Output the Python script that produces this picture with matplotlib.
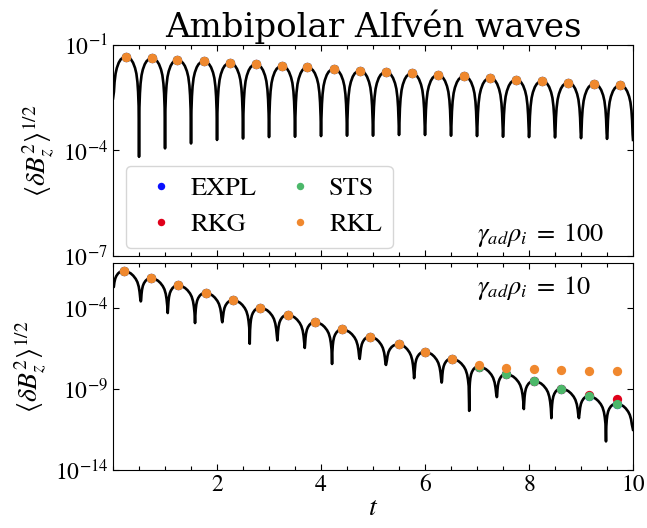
import numpy as np
import matplotlib
matplotlib.use("Agg")
import matplotlib.pyplot as plt
from matplotlib.ticker import FixedLocator, MultipleLocator, NullLocator

plt.rcParams['font.family'] = ['STIXGeneral', 'DejaVu Serif']
plt.rcParams['mathtext.fontset'] = 'stix'

# ---------------- data (log10 values) ----------------
methods = ["EXPL", "RKG", "STS", "RKL"]
colors = ["#0a10ff", "#e0001a", "#4cb86a", "#f0882e"]

# top panel (gamma_ad rho_i = 100)
top_peak_t = [0.244, 0.744, 1.237, 1.744, 2.244, 2.744, 3.244, 3.737, 4.244, 4.744,
              5.244, 5.744, 6.244, 6.75, 7.25, 7.75, 8.25, 8.75, 9.25, 9.75]
top_peak_log = [-1.333, -1.378, -1.427, -1.463, -1.512, -1.549, -1.597, -1.634, -1.682, -1.731,
                -1.768, -1.805, -1.853, -1.890, -1.938, -1.987, -2.024, -2.072, -2.109, -2.146]
top_cusp_t = [0.5, 1.0, 1.5, 2.0, 2.5, 3.0, 3.5, 4.0, 4.5, 5.0,
              5.5, 6.0, 6.5, 7.0, 7.5, 8.0, 8.5, 9.0, 9.5]
top_cusp_log = [-4.18, -3.94, -3.80, -3.70, -3.66, -3.62, -3.61, -3.59, -3.58, -3.58,
                -3.56, -3.56, -3.58, -3.59, -3.61, -3.62, -3.63, -3.65, -3.67]
top_start = (0.0, -2.52)
top_end = (10.0, -3.70)
top_dots_log = {
    "EXPL": top_peak_log,
    "RKG": top_peak_log,
    "STS": top_peak_log,
    "RKL": top_peak_log,
}

# bottom panel (gamma_ad rho_i = 10)
bot_peak_t = [0.212, 0.737, 1.256, 1.783, 2.313, 2.833, 3.360, 3.890, 4.410, 4.942,
              5.49, 6.00, 6.51, 7.03, 7.56, 8.10, 8.62, 9.15, 9.69]
bot_line_peak_log = [-1.68, -2.13, -2.58, -3.04, -3.49, -3.96, -4.40, -4.85, -5.30, -5.75,
                     -6.22, -6.68, -7.11, -7.60, -8.06, -8.49, -8.96, -9.43, -9.89]
bot_cusp_t = [0.533, 1.052, 1.577, 2.102, 2.629, 3.160, 3.687, 4.212, 4.744, 5.25,
              5.79, 6.32, 6.85, 7.38, 7.90, 8.43, 8.96, 9.48]
bot_cusp_log = [-3.57, -4.29, -4.91, -4.86, -6.19, -5.98, -6.45, -7.44, -7.13, -7.50,
                -8.32, -8.59, -10.34, -9.49, -10.23, -10.79, -10.79, -12.23]
bot_start = (0.0, -2.70)
bot_end = (10.0, -11.51)
bot_dots_log = {
    "EXPL": [-1.68, -2.13, -2.58, -3.04, -3.49, -3.96, -4.40, -4.85, -5.30, -5.75,
             -6.22, -6.68, -7.11, -7.60, -8.06, -8.49, -8.96, -9.43, -9.89],
    "RKG": [-1.68, -2.13, -2.58, -3.04, -3.49, -3.96, -4.40, -4.85, -5.30, -5.75,
            -6.22, -6.68, -7.11, -7.60, -8.06, -8.49, -8.96, -9.33, -9.60],
    "STS": [-1.68, -2.13, -2.58, -3.04, -3.49, -3.96, -4.40, -4.85, -5.30, -5.75,
            -6.22, -6.68, -7.11, -7.60, -8.06, -8.49, -8.96, -9.43, -9.89],
    "RKL": [-1.68, -2.13, -2.58, -3.04, -3.49, -3.96, -4.40, -4.85, -5.30, -5.75,
            -6.22, -6.68, -7.11, -7.48, -7.69, -7.77, -7.81, -7.87, -7.85],
}

# shape of one arch: fraction of the way from cusp to peak,
# and drop below the arch maximum (decades)
rise_frac = [0.03, 0.07, 0.12, 0.20, 0.30, 0.45, 0.60, 0.80]
rise_drop = [1.40, 1.00, 0.72, 0.48, 0.32, 0.17, 0.08, 0.02]
top_fall_drop = [1.40, 1.00, 0.72, 0.48, 0.32, 0.17, 0.08, 0.02]
bot_fall_drop = [1.70, 1.30, 0.98, 0.70, 0.50, 0.30, 0.16, 0.05]


def stitch(start, end, peak_t, peak_v, cusp_t, cusp_v, fall_drop):
    ts = [start[0]]
    vs = [start[1]]
    n = len(peak_t)
    for i in range(n):
        lt, lv = (start if i == 0 else (cusp_t[i - 1], cusp_v[i - 1]))
        pt, pv = peak_t[i], peak_v[i]
        bd = pv - lv
        for f, d in zip(rise_frac, rise_drop):
            if d < bd:
                ts.append(lt + f * (pt - lt))
                vs.append(pv - d)
        ts.append(pt)
        vs.append(pv)
        rt, rv = ((cusp_t[i], cusp_v[i]) if i < n - 1 else end)
        bd = pv - rv
        for f, d in reversed(list(zip(rise_frac, fall_drop))):
            if d < bd:
                ts.append(rt - f * (rt - pt))
                vs.append(pv - d)
        ts.append(rt)
        vs.append(rv)
    return np.array(ts), 10.0 ** np.array(vs)


fig = plt.figure(figsize=(6.47, 5.28), dpi=100)
ax1 = fig.add_axes([0.1747, 0.5152, 0.8037, 0.3996])
ax2 = fig.add_axes([0.1747, 0.1098, 0.8037, 0.3920])

# top
t1, y1 = stitch(top_start, top_end, top_peak_t, top_peak_log, top_cusp_t, top_cusp_log, top_fall_drop)
ax1.plot(t1, y1, color='black', lw=1.9, zorder=2)
for m, c in zip(methods, colors):
    ax1.plot(top_peak_t, 10.0 ** np.array(top_dots_log[m]), 'o', color=c, ms=6.7,
             mew=0, label=m, zorder=3)

# bottom
t2, y2 = stitch(bot_start, bot_end, bot_peak_t, bot_line_peak_log, bot_cusp_t, bot_cusp_log, bot_fall_drop)
ax2.plot(t2, y2, color='black', lw=1.9, zorder=2)
for m, c in zip(methods, colors):
    ax2.plot(bot_peak_t, 10.0 ** np.array(bot_dots_log[m]), 'o', color=c, ms=6.7,
             mew=0, label=m, zorder=3)

for ax in (ax1, ax2):
    ax.set_yscale('log')
    ax.set_xlim(0, 10)
    ax.xaxis.set_major_locator(FixedLocator([2, 4, 6, 8, 10]))
    ax.xaxis.set_minor_locator(MultipleLocator(0.5))
    ax.yaxis.set_minor_locator(NullLocator())
    ax.tick_params(which='both', direction='in', top=True, right=True, labelsize=17)
    ax.tick_params(which='major', length=4, width=0.8)
    ax.tick_params(which='minor', length=3, width=0.8)
    ax.set_ylabel(r'$\langle \delta B_z^2 \rangle^{1/2}$', fontsize=20)

ax1.set_ylim(1e-7, 1e-1)
ax1.yaxis.set_major_locator(FixedLocator([1e-7, 1e-4, 1e-1]))
ax1.tick_params(labelbottom=False)
ax2.set_ylim(1e-14, 10 ** -1.2)
ax2.yaxis.set_major_locator(FixedLocator([1e-14, 1e-9, 1e-4]))
ax2.set_xlabel(r'$t$', fontsize=20, labelpad=0)

ax1.set_title('Ambipolar Alfvén waves', fontsize=24.5, family='DejaVu Serif', pad=6)

ax1.legend(ncol=2, loc='lower left', bbox_to_anchor=(0.025, 0.038), borderaxespad=0,
           fontsize=19, markerscale=0.8, handlelength=1.85, handletextpad=0.2,
           columnspacing=0.7, labelspacing=0.45)

ax1.text(0.70, 0.10, r'$\gamma_{ad}\rho_i\;=\;100$', transform=ax1.transAxes,
         ha='left', va='center', fontsize=19)
ax2.text(0.70, 0.88, r'$\gamma_{ad}\rho_i\;=\;10$', transform=ax2.transAxes,
         ha='left', va='center', fontsize=19)

fig.savefig('out.png', dpi=100)
